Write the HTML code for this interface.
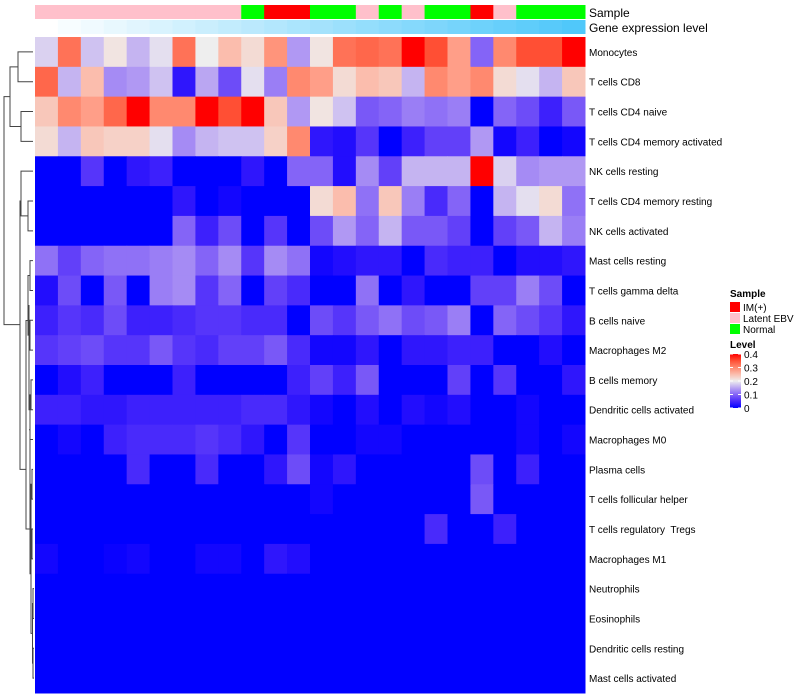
<!DOCTYPE html>
<html><head><meta charset="utf-8"><style>
body{margin:0;background:#fff;}
svg{display:block;font-family:"Liberation Sans",sans-serif;}
text{white-space:pre;}
</style></head><body>
<svg id="chart" width="800" height="700"></svg>
<script>
const rowNames=["Monocytes","T cells CD8","T cells CD4 naive","T cells CD4 memory activated","NK cells resting","T cells CD4 memory resting","NK cells activated","Mast cells resting","T cells gamma delta","B cells naive","Macrophages M2","B cells memory","Dendritic cells activated","Macrophages M0","Plasma cells","T cells follicular helper","T cells regulatory  Tregs","Macrophages M1","Neutrophils","Eosinophils","Dendritic cells resting","Mast cells activated"];
const sampleGroups=["Latent EBV","Latent EBV","Latent EBV","Latent EBV","Latent EBV","Latent EBV","Latent EBV","Latent EBV","Latent EBV","Normal","IM(+)","IM(+)","Normal","Normal","Latent EBV","Normal","Latent EBV","Normal","Normal","IM(+)","Latent EBV","Normal","Normal","Normal"];
const legendTicks=[0,0.1,0.2,0.3,0.4];
const Z=new Array(24).fill(0);
const values=[
[0.18,0.32,0.17,0.21,0.16,0.19,0.32,0.2,0.25,0.22,0.29,0.14,0.21,0.32,0.33,0.32,0.4,0.35,0.28,0.1,0.3,0.35,0.35,0.4],
[0.33,0.16,0.25,0.13,0.14,0.17,0.03,0.15,0.08,0.19,0.12,0.3,0.28,0.22,0.25,0.24,0.16,0.3,0.28,0.3,0.22,0.19,0.16,0.24],
[0.24,0.3,0.28,0.33,0.4,0.3,0.3,0.4,0.35,0.4,0.24,0.14,0.21,0.17,0.09,0.1,0.12,0.11,0.12,0,0.1,0.08,0.04,0.09],
[0.22,0.16,0.24,0.23,0.23,0.19,0.13,0.16,0.17,0.17,0.23,0.3,0.03,0.02,0.06,0,0.04,0.07,0.07,0.14,0.01,0.04,0,0.01],
[0,0,0.06,0,0.03,0.04,0,0,0,0.03,0,0.1,0.1,0.02,0.13,0.07,0.16,0.16,0.16,0.4,0.18,0.13,0.14,0.14],
[0,0,0,0,0,0,0.03,0,0.01,0,0,0,0.22,0.25,0.11,0.24,0.12,0.05,0.1,0,0.16,0.19,0.22,0.11],
[0,0,0,0,0,0,0.1,0.04,0.08,0,0.06,0,0.08,0.14,0.1,0.16,0.09,0.09,0.07,0,0.07,0.09,0.16,0.12],
[0.11,0.07,0.1,0.11,0.11,0.12,0.13,0.1,0.13,0.06,0.13,0.11,0.01,0.02,0.03,0.03,0,0.05,0.04,0.04,0,0.02,0.02,0.03],
[0.02,0.08,0,0.09,0,0.12,0.13,0.06,0.1,0,0.07,0.05,0,0,0.11,0,0.03,0,0,0.07,0.07,0.12,0.08,0],
[0.04,0.06,0.05,0.08,0.04,0.04,0.05,0.06,0.06,0.05,0.05,0,0.08,0.06,0.09,0.11,0.08,0.09,0.12,0,0.1,0.08,0.06,0.03],
[0.06,0.07,0.08,0.06,0.06,0.09,0.06,0.05,0.07,0.07,0.09,0.05,0.01,0.01,0.03,0,0.03,0.03,0.04,0.04,0,0,0.02,0],
[0,0.02,0.04,0,0,0,0.04,0,0,0,0,0.04,0.07,0.04,0.09,0,0,0,0.07,0,0.06,0,0,0.03],
[0.04,0.04,0.03,0.03,0.04,0.04,0.04,0.04,0.04,0.05,0.05,0.03,0.01,0,0.02,0,0.02,0.01,0.02,0,0,0.01,0,0],
[0,0.01,0,0.04,0.05,0.05,0.05,0.06,0.05,0.03,0,0.06,0,0,0.01,0.01,0,0,0,0,0,0.01,0,0.01],
[0,0,0,0,0.05,0,0,0.05,0,0,0.03,0.08,0.01,0.03,0,0,0,0,0,0.08,0,0.04,0,0],
[0,0,0,0,0,0,0,0,0,0,0,0,0.01,0,0,0,0,0,0,0.09,0,0,0,0],
[0,0,0,0,0,0,0,0,0,0,0,0,0,0,0,0,0,0.05,0,0,0.04,0,0,0],
[0.01,0,0,0.005,0.01,0,0,0.01,0.01,0,0.03,0.02,0,0,0,0,0,0,0,0,0,0,0,0],
Z.slice(),Z.slice(),Z.slice(),Z.slice()
];
const sampleColors={"IM(+)":"#ff0000","Latent EBV":"#ffc0cb","Normal":"#00ff00"};
const svg=document.getElementById('chart');
const NS='http://www.w3.org/2000/svg';
const X0=35,X1=585,Y0=37,Y1=693;
const nC=sampleGroups.length,nR=rowNames.length;
const cw=(X1-X0)/nC,rh=(Y1-Y0)/nR;
const xPos=i=>X0+i*cw, yPos=j=>Y0+j*rh;
function col(v){
  if(v<=0.2){const t=Math.max(0,v)/0.2;return `rgb(${Math.round(238*Math.pow(t,0.85))},${Math.round(238*Math.pow(t,1.25))},${Math.round(255-17*t)})`;}
  const t=Math.min(1,(v-0.2)/0.2);return `rgb(${Math.round(238+17*Math.min(1,t*3))},${Math.round(238*Math.pow(1-t,0.8))},${Math.round(238*Math.pow(1-t,1.1))})`;
}
function mk(tag,attrs,parent){const e=document.createElementNS(NS,tag);for(const k in attrs)e.setAttribute(k,attrs[k]);(parent||svg).appendChild(e);return e;}
for(let i=0;i<nC;i++){
  const r=mk('rect',{x:xPos(i),y:5,width:cw+0.5,height:14,fill:sampleColors[sampleGroups[i]]});
  
  
  const t=i/(nC-1);
  const g=mk('rect',{x:xPos(i),y:20,width:cw+0.5,height:14,fill:`rgb(${Math.round(255-175*t)},${Math.round(255-55*t)},${Math.round(255-5*t)})`});
  
  
}
let t1=mk('text',{x:589,y:17,'font-size':12,fill:'#000'});t1.textContent='Sample';

let t2=mk('text',{x:589,y:32,'font-size':12,fill:'#000'});t2.textContent='Gene expression level';

for(let j=0;j<nR;j++){
  for(let i=0;i<nC;i++){
    const r=mk('rect',{x:xPos(i),y:yPos(j),width:cw+0.5,height:rh+0.5,fill:col(values[j][i])});
    
    
  }
  const lb=mk('text',{x:589,y:yPos(j)+rh/2+4,'font-size':10,fill:'#000'});
  lb.textContent=rowNames[j];
  
  
}
const yc=j=>yPos(j)+rh/2;
const dg=mk('g',{stroke:'#444','stroke-width':1,fill:'none'});

function link(x,ya,yb,xa,xb){mk('path',{d:`M${xa},${ya}H${x}V${yb}H${xb}`},dg);}
link(18,yc(0),yc(1),33,33);
link(21,yc(2),yc(3),33,33);
link(10,(yc(0)+yc(1))/2,(yc(2)+yc(3))/2,18,21);
link(21,yc(4),(yc(5)+yc(6))/2,33,28);
link(28,yc(5),yc(6),33,33);
link(30,yc(7),yc(8),33,33);
link(30,yc(9),yc(10),33,33);
link(28,(yc(7)+yc(8))/2,(yc(9)+yc(10))/2,30,30);
link(31,yc(11),yc(12),33,33);
link(30,(yc(11)+yc(12))/2,yc(13),31,33);
link(29,(yc(7)+yc(9))/2+15,(yc(11)+yc(13))/2,28,30);
link(32,yc(14),yc(15),33,33);
link(32,yc(16),yc(17),33,33);
link(31,(yc(14)+yc(15))/2,(yc(16)+yc(17))/2,32,32);
link(33,yc(18),yc(19),34,34);
link(33,yc(20),yc(21),34,34);
link(32.5,(yc(18)+yc(19))/2,(yc(20)+yc(21))/2,33,33);
link(31,(yc(14)+yc(17))/2,(yc(18)+yc(21))/2,31,32.5);
link(30,(yc(11)+yc(13))/2+20,(yc(14)+yc(21))/2,29,31);
link(26,(yc(7)+yc(9))/2+30,(yc(11)+yc(21))/2,29,30);
link(20,(yc(4)+yc(6))/2,(yc(7)+yc(21))/2,21,26);
link(4,(yc(0)+yc(3))/2,(yc(4)+yc(21))/2-100,10,20);
let lt=mk('text',{x:730,y:297,'font-size':10,'font-weight':'bold',fill:'#000'});lt.textContent='Sample';

["IM(+)","Latent EBV","Normal"].forEach((k,i)=>{
  const r=mk('rect',{x:730,y:302+i*11,width:10,height:10,fill:sampleColors[k]});
  
  const t=mk('text',{x:743,y:311+i*11,'font-size':10,fill:'#000'});t.textContent=k;
  
});
let lv=mk('text',{x:730,y:348,'font-size':10,'font-weight':'bold',fill:'#000'});lv.textContent='Level';

const defs=mk('defs',{});
const lg=mk('linearGradient',{id:'lg',x1:0,y1:1,x2:0,y2:0},defs);
[0,0.05,0.1,0.15,0.2,0.25,0.3,0.35,0.4].forEach(v=>mk('stop',{offset:v/0.4,'stop-color':col(v)},lg));
const gb=mk('rect',{x:730,y:354,width:11,height:54,fill:'url(#lg)'});

legendTicks.forEach(v=>{
  const y=408-v/0.4*54;
  mk('line',{x1:730,x2:733,y1:y,y2:y,stroke:'#fff'});
  mk('line',{x1:738,x2:741,y1:y,y2:y,stroke:'#fff'});
  const t=mk('text',{x:744,y:y+4,'font-size':10,fill:'#000'});t.textContent=String(v);
  
});
</script>
</body></html>
